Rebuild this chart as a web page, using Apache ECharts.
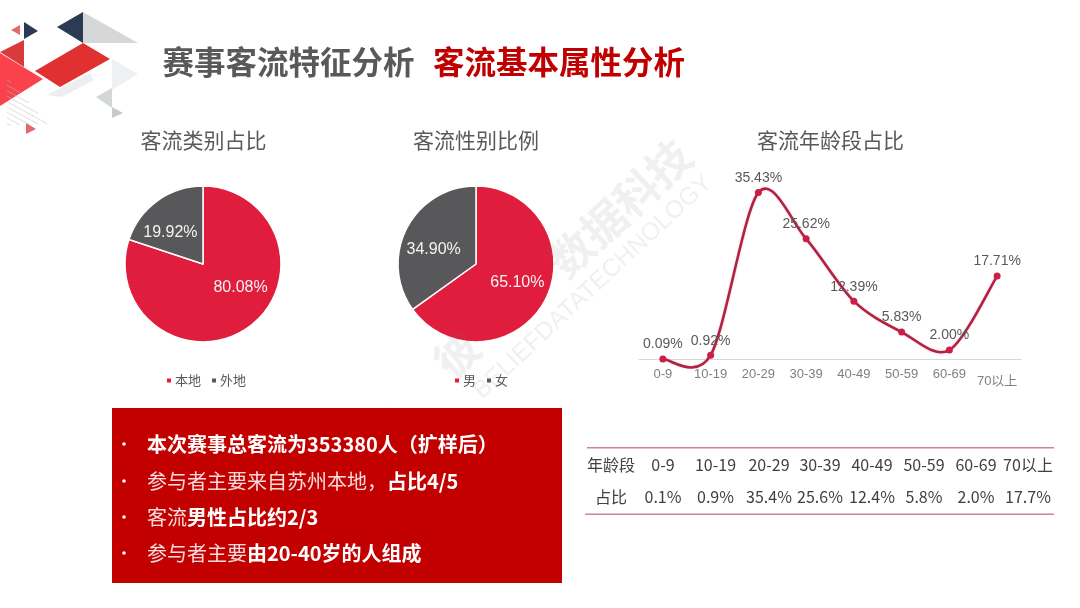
<!DOCTYPE html>
<html><head><meta charset="utf-8">
<style>html,body{margin:0;padding:0;background:#fff}#c{width:1080px;height:608px}</style>
<script src="https://cdn.jsdelivr.net/npm/echarts@6/dist/echarts.min.js"></script>
</head><body><div id="c"></div>
<script>
const heading1 = '赛事客流特征分析';
const heading2 = '客流基本属性分析';
const chartTitles = ['客流类别占比', '客流性别比例', '客流年龄段占比'];
const typeNames = ['本地', '外地'];
const typeValues = [80.08, 19.92];
const genderNames = ['男', '女'];
const genderValues = [65.10, 34.90];
const ageCategories = ['0-9', '10-19', '20-29', '30-39', '40-49', '50-59', '60-69', '70以上'];
const ageValues = [0.09, 0.92, 35.43, 25.62, 12.39, 5.83, 2.00, 17.71];
const tableHead = ['年龄段', '0-9', '10-19', '20-29', '30-39', '40-49', '50-59', '60-69', '70以上'];
const tableRow = ['占比', '0.1%', '0.9%', '35.4%', '25.6%', '12.4%', '5.8%', '2.0%', '17.7%'];
const notes = [
  '{b|本次赛事总客流为353380人（扩样后）}',
  '{n|参与者主要来自苏州本地，}{b|占比4/5}',
  '{n|客流}{b|男性占比约2/3}',
  '{n|参与者主要}{b|由20-40岁的人组成}'
];

const RED = '#e01d3d', GREY = '#58585a';
const CJK = '"Noto Sans CJK SC","Noto Sans",sans-serif';
const LAT = '"Liberation Sans",Arial,"Noto Sans CJK SC",sans-serif';

const poly = (points, fill, z) => ({type:'polygon', z:z||1, shape:{points}, style:{fill}});
const txt = (x, y, text, font, fill, extra) => ({type:'text', z:5, x, y,
  style:Object.assign({text, font, fill, align:'center', verticalAlign:'middle'}, extra||{})});

const graphics = [
  poly([[83,12],[138,43],[83,43]], '#d5d7d9'),
  poly([[57,27],[83,12],[83,43]], '#2b3b55'),
  poly([[24,22],[38,31],[24,39]], '#2b3b55'),
  poly([[11,30],[20,25],[20,35]], '#e8666e'),
  poly([[0,52],[24,40],[24,67]], '#d93a3c'),
  poly([[35,71],[83,43],[110,59],[60,87]], '#e0302f'),
  poly([[0,53],[43,79],[0,106]], '#f9424c'),
  poly([[112,59],[138,74],[112,90]], '#eef0f1'),
  poly([[47,95],[90,73],[94,80],[62,97]], '#eeeeee'),
  poly([[96,97],[112,88],[112,108]], '#d3d7d9'),
  poly([[112,107],[123,113],[112,118]], '#c6cacc'),
  poly([[26,123],[36,129],[26,134]], '#e8666e'),
  poly([[363,433],[390,407],[460,427],[430,470],[395,462]], 'rgba(150,150,150,0.07)', 2),
];
for (let i = 0; i < 9; i++) {
  const y = 80 + i * 5.4;
  graphics.push({type:'line', z:2, shape:{x1:7, y1:y, x2:7 + Math.min(i, 8 - i) * 9 + 4, y2:y + (Math.min(i, 8 - i) * 9 + 4) * 0.55},
    style:{stroke:'rgba(190,190,190,0.75)', lineWidth:0.7}});
}
graphics.push(
  txt(288.5, 62.5, heading1, 'bold 31.5px ' + CJK, '#595959'),
  txt(559, 62.5, heading2, 'bold 31.5px ' + CJK, '#c00000'),
  {type:'rect', z:3, shape:{x:112, y:408, width:450, height:175}, style:{fill:'#c20000'}},
  {type:'rect', z:4, shape:{x:587, y:447, width:467, height:1.5}, style:{fill:'#cc8595'}},
  {type:'rect', z:4, shape:{x:585, y:513.5, width:469, height:1.5}, style:{fill:'#cc8595'}}
);
const noteRows = [444, 481, 517, 553];
notes.forEach((t, i) => {
  graphics.push({type:'circle', z:5, shape:{cx:124, cy:noteRows[i], r:1.8}, style:{fill:'#fff'}});
  graphics.push({type:'text', z:5, x:147, y:noteRows[i], style:{text:t, align:'left', verticalAlign:'middle',
    rich:{b:{font:'bold 20px ' + CJK, fill:'#fff'}, n:{font:'20px ' + CJK, fill:'#f8dcdc'}}}});
});
const colX = [611, 663, 715.5, 769, 820, 872, 924, 976, 1028];
tableHead.forEach((t, i) => graphics.push(txt(colX[i], 465, t, '16px ' + CJK, '#404040')));
tableRow.forEach((t, i) => graphics.push(txt(colX[i], 497, t, '16px ' + CJK, '#404040')));
const mark = 'rgba(120,120,120,0.11)';
const rot = 0.75;
graphics.push(
  {type:'text', z:20, x:457, y:354, rotation:rot, style:{text:'彼', font:'bold 44px ' + CJK, fill:mark, align:'center', verticalAlign:'middle'}},
  {type:'text', z:20, x:620, y:208, rotation:rot, style:{text:'数据科技', font:'bold 44px ' + CJK, fill:mark, align:'center', verticalAlign:'middle'}},
  {type:'text', z:20, x:593, y:287, rotation:rot, style:{text:'BELIEFDATATECHNOLOGY', font:'24.5px ' + LAT, fill:mark, align:'center', verticalAlign:'middle'}}
);

const pie = (names, values, cx, offsets) => ({
  type:'pie', center:[cx, 264], radius:[0, 78], startAngle:90, clockwise:true, silent:true, z:3,
  itemStyle:{borderColor:'#fff', borderWidth:1.5},
  color:[RED, GREY], emphasis:{disabled:true},
  labelLine:{show:false},
  data:names.map((name, i) => ({name, value:values[i],
    label:{show:true, position:'inside', offset:offsets[i], color:'#f3f3f3', fontSize:16, fontFamily:LAT,
      formatter:p => p.value.toFixed(2) + '%'}}))
});
const legend = (names, left) => ({
  data:names, left, top:369, icon:'rect', itemWidth:6, itemHeight:6, itemGap:9, silent:true,
  selectedMode:false, textStyle:{color:'#595959', fontSize:13, fontFamily:CJK, padding:[0,0,0,-2]}
});
const title = (text, x) => ({text, left:x, top:130, padding:0, textAlign:'center',
  textStyle:{color:'#595959', fontSize:21, fontWeight:'normal', fontFamily:CJK}});

// smooth curve through the data, with the overshoot of a spreadsheet spline
const curveItem = (params, api) => {
  const i = params.dataIndex, n = ageValues.length;
  if (i >= n - 1) return null;
  const P = k => api.coord([Math.max(0, Math.min(n - 1, k)), ageValues[Math.max(0, Math.min(n - 1, k))]]);
  const p0 = P(i - 1), p1 = P(i), p2 = P(i + 1), p3 = P(i + 2), k = 6.5;
  const c1 = [p1[0] + (p2[0] - p0[0]) / k, p1[1] + (p2[1] - p0[1]) / k];
  const c2 = [p2[0] - (p3[0] - p1[0]) / k, p2[1] - (p3[1] - p1[1]) / k];
  return {type:'bezierCurve', shape:{x1:p1[0], y1:p1[1], cpx1:c1[0], cpy1:c1[1], cpx2:c2[0], cpy2:c2[1], x2:p2[0], y2:p2[1]},
    style:{fill:null, stroke:'#ae2342', lineWidth:2.6, lineCap:'round', shadowColor:'rgba(240,120,150,0.5)', shadowBlur:2}};
};

const chart = echarts.init(document.getElementById('c'), null, {renderer:'canvas'});
chart.setOption({
  animation:false,
  backgroundColor:'#fff',
  title:[title(chartTitles[0], 203.5), title(chartTitles[1], 476), title(chartTitles[2], 830.5)],
  legend:[legend(typeNames, 160), legend(genderNames, 448)],
  grid:{left:639, width:382, top:171.1, height:188.4, containLabel:false},
  xAxis:{type:'category', data:ageCategories.map((value, i) => i === 7
      ? {value, textStyle:{padding:[7,0,0,0]}} : {value}),
    boundaryGap:true,
    axisLine:{lineStyle:{color:'#d9d9d9', width:1}},
    axisTick:{show:false},
    axisLabel:{color:'#7f7f7f', fontSize:13, fontFamily:LAT, margin:8, interval:0}},
  yAxis:{type:'value', min:0, max:40, interval:10, axisLine:{show:false}, axisTick:{show:false},
    axisLabel:{show:false}, splitLine:{show:false}},
  series:[
    pie(typeNames, typeValues, 203, [[13,-10],[-8,3]]),
    pie(genderNames, genderValues, 476, [[4,-1],[-5,5]]),
    {type:'custom', data:ageValues.map((v, i) => [i, v]), encode:{x:0, y:1}, renderItem:curveItem, silent:true, z:4, clip:false},
    {type:'line', data:ageValues, silent:true, z:5, clip:false,
      symbol:'circle', symbolSize:7,
      lineStyle:{width:0, opacity:0},
      itemStyle:{color:'#cc1f45'},
      label:{show:true, position:'top', distance:4, color:'#595959', fontSize:14, fontFamily:LAT,
        formatter:p => p.value.toFixed(2) + '%'}}
  ],
  graphic:{elements:graphics}
});
</script></body></html>
